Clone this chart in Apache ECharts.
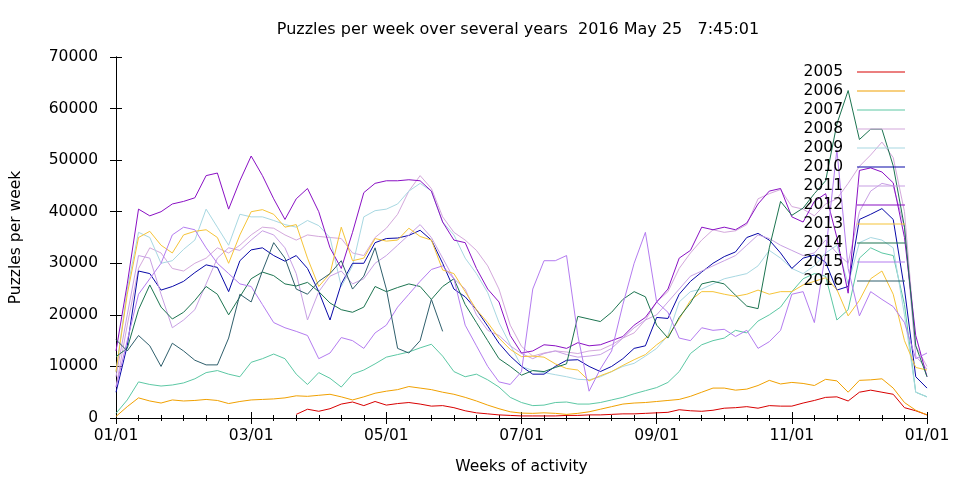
<!DOCTYPE html>
<html><head><meta charset="utf-8">
<script src="https://cdn.jsdelivr.net/npm/echarts@6/dist/echarts.min.js"></script>
<style>html,body{margin:0;padding:0;background:#fff}#c{width:960px;height:480px}</style>
</head><body><div id="c"></div>
<script>
// day of year (x), one sample every 5 days
const days = [0,5,10,15,20,25,30,35,40,45,50,55,60,65,70,75,80,85,90,95,100,105,110,115,120,125,130,135,140,145,150,155,160,165,170,175,180,185,190,195,200,205,210,215,220,225,230,235,240,245,250,255,260,265,270,275,280,285,290,295,300,305,310,315,320,325,330,335,340,345,350,355,360];
const tickLabels = ['01/01','03/01','05/01','07/01','09/01','11/01','01/01'];
const years = ['2005','2006','2007','2008','2009','2010','2011','2012','2013','2014','2015','2016'];

const y2005 = [null,null,null,null,null,null,null,null,null,null,null,null,null,null,null,null,
  700,1700,1300,1800,2700,3100,2400,3200,2500,2800,3000,2700,2300,2400,2000,1400,1000,800,600,500,
  400,400,400,400,500,500,600,600,700,800,800,900,1000,1100,1600,1400,1300,1500,1900,2000,
  2200,1900,2400,2300,2300,2900,3400,4000,4100,3300,5000,5400,5000,4600,2000,1400,600];
const y2006 = [300,2200,3900,3300,2900,3500,3300,3400,3600,3400,2800,3200,3500,3600,3700,3900,4300,4200,4400,4600,
  4100,3500,4100,4800,5200,5500,6100,5800,5500,5000,4600,4000,3300,2500,1800,1200,950,900,1000,900,
  700,900,1200,1700,2200,2700,2900,3000,3200,3400,3600,4200,5000,5800,5800,5400,5600,6300,7300,6600,
  6900,6700,6300,7500,7200,5000,7300,7400,7600,5800,3000,1500,600];
const y2007 = [900,3500,7000,6500,6200,6400,6800,7600,8800,9200,8500,8000,10800,11500,12400,11500,8500,6500,8800,7700,
  6000,8500,9300,10500,11800,12300,12800,13600,14300,12000,9000,8000,8500,7400,6000,4000,3000,2400,2500,3000,
  3100,2700,2700,3000,3500,4000,4700,5300,5900,6900,9000,12500,14200,15000,15500,17000,16500,18800,20000,21500,
  24500,27000,28000,27500,19000,21000,31000,33000,32000,31500,22000,5000,4100];
const y2008 = [6000,18000,29000,33000,32000,29000,28500,30000,31000,33000,32000,33500,35500,37000,36800,35500,34500,35500,35200,35000,
  34800,32000,31500,35000,36800,39500,44000,47000,44500,39000,36000,34500,32500,29500,25000,18000,13900,12000,12600,13000,
  12800,12500,13000,13200,14200,15500,16500,19000,22500,24500,29000,32000,34500,36500,36000,36300,37500,42500,43500,44300,
  41000,40500,39200,41500,42500,45500,48800,51000,53500,50500,40000,14000,10000];
const y2009 = [9000,25000,36000,35000,30000,30500,32700,34500,40500,37000,33500,39500,39000,39000,38300,37500,37000,38300,37300,35000,
  25500,29500,39000,40200,40500,41500,44000,45500,44000,38000,35500,31000,28000,24300,18500,14200,10000,9200,8800,8400,
  8000,7500,7400,8000,9000,10000,10600,12000,13500,16000,22500,24500,25000,26000,27000,27500,28000,29500,32500,31000,
  29000,28000,29500,32000,33500,26000,34000,35000,34500,33000,20000,5000,4100];
const y2010 = [5000,14000,28500,28000,24800,25500,26500,28200,29700,29200,24500,30500,32600,33000,31500,30400,31500,29000,24500,19000,
  26000,30000,30000,34000,34800,34900,35400,36400,34500,30000,25000,23500,21000,17800,14500,12000,10000,8500,8500,10000,
  11200,11300,10000,9000,10000,11500,13500,14000,19500,19300,24000,26500,28300,30000,31300,32200,35000,35800,34500,32000,
  29000,31000,31600,30200,24800,25500,38500,39500,40600,38500,25000,8000,5800];
const y2011 = [8000,20000,31500,31000,24000,17500,19000,21000,26000,31000,33000,32500,34500,36300,35500,33000,28000,19000,24500,27500,
  28500,26000,27000,30000,31500,33500,35500,37500,35000,31000,27000,25000,20000,17000,16000,14000,12500,11500,12500,13000,
  12300,11800,12000,12300,13500,15500,17500,19000,20000,22500,25000,27500,28500,29500,30500,31500,33500,35500,34800,33500,
  32500,31500,32000,34500,32000,30000,40000,44000,45500,45000,37000,12000,9500];
const y2012 = [13000,26000,40500,39200,40000,41500,42000,42700,47000,47500,40500,46000,50800,47000,42500,38500,42500,44500,40000,33000,
  29000,36000,43700,45500,46000,46000,46200,46000,44000,38000,34500,34000,29000,25000,22500,16000,12600,13000,14200,14000,
  13500,14600,14000,14200,15000,15800,18000,19500,22500,25000,31000,32500,37000,36500,37000,36500,37800,41500,44000,44500,
  39000,38000,42000,43500,35000,24200,48000,48500,47700,45600,35000,16000,8000];
const y2013 = [9000,24000,35000,36200,33500,32000,35500,36200,36500,35000,30000,35500,40000,40400,39500,37000,37500,31000,25500,28000,
  37000,30500,31000,34800,34300,34500,36800,35200,34500,28700,28000,24500,21000,18500,15500,13300,11900,12000,11800,10500,
  9600,9300,7200,8200,9000,10200,11300,12300,14200,15800,19200,22800,24500,24500,24000,23600,24000,24800,24000,24500,
  24500,25800,26500,27200,24900,19800,22800,27000,28500,24000,15000,9800,9300];
const y2014 = [11900,13500,21000,25800,21500,19200,20500,22800,25500,24000,20000,23500,27000,28300,27600,26000,25600,26300,24500,22300,
  21000,20500,21500,25500,24500,25300,26000,25500,23000,25500,27000,22000,18500,15000,11500,10000,8300,9200,9000,9800,
  10500,19700,19200,18700,20500,23000,24500,23500,18000,15500,19500,22300,26000,26500,26000,23800,21700,21200,33000,42000,
  39300,40700,43500,46000,57000,63500,54000,56000,56000,48900,37000,14000,8000];
const y2015 = [6000,15000,24000,27000,30000,35500,37000,36500,33000,30000,28000,26000,25500,22000,18500,17500,16800,16000,11500,12600,
  15600,15000,13500,16500,18000,21500,24000,26500,28800,29500,27000,18000,14000,10000,7000,6500,9000,25000,30500,30500,
  31500,16000,5200,9500,13000,22000,30000,36000,22500,20500,15500,15000,17500,17000,17200,15800,17000,13500,14800,17000,
  24000,24500,18500,32000,52000,29000,19800,24500,23000,21600,18500,11500,12600];
const y2016 = [15200,13000,16000,14000,10000,14500,13000,11200,10300,10300,15500,24000,22500,28500,34000,31000,25000,24000,26500,28000,
  30500,25000,27500,33000,25000,13500,12600,15000,23000,16800,
  null,null,null,null,null,null,null,null,null,null,null,null,null,null,null,null,null,null,null,null,null,null,
  null,null,null,null,null,null,null,null,null,null,null,null,null,null,null,null,null,null,null,null,null];

const yearValues = [y2005,y2006,y2007,y2008,y2009,y2010,y2011,y2012,y2013,y2014,y2015,y2016];
const colors = ['#d80000','#f0a000','#5cc8a4','#d4a8dc','#a8d8e2','#0808a8','#c8a0e4','#8a10c4','#f6c438','#1c7450','#b47cf0','#2f5f6c'];

const FONT = 'DejaVu Sans';
const chart = echarts.init(document.getElementById('c'), null, {renderer:'canvas'});

const series = years.map((y, k) => ({
  name: y,
  type: 'line',
  xAxisIndex: 0,
  yAxisIndex: 0,
  symbol: 'none',
  connectNulls: false,
  silent: true,
  animation: false,
  color: colors[k],
  itemStyle: {color: colors[k]},
  lineStyle: {color: colors[k], width: 1},
  data: days.map((d, i) => [d, yearValues[k][i]])
}));

const xBase = {
  type: 'value', min: 0, max: 360, interval: 60,
  axisLine: {show: true, lineStyle: {color: '#000', width: 1}},
  axisTick: {show: true, inside: true, length: 6, lineStyle: {color: '#000'}},
  minorTick: {show: true, splitNumber: 6, length: 3, lineStyle: {color: '#000'}},
  splitLine: {show: false}, minorSplitLine: {show: false}
};
const yBase = {
  type: 'value', min: 0, max: 70000, interval: 10000,
  axisLine: {show: true, lineStyle: {color: '#000', width: 1}},
  axisTick: {show: true, inside: true, length: 6, lineStyle: {color: '#000'}},
  splitLine: {show: false}
};

chart.setOption({
  animation: false,
  backgroundColor: '#fff',
  textStyle: {fontFamily: FONT},
  title: {
    text: 'Puzzles per week over several years  2016 May 25   7:45:01',
    left: 513, top: 17, textAlign: 'center',
    textStyle: {fontFamily: FONT, fontSize: 16, fontWeight: 'normal', color: '#000'}
  },
  grid: {left: 113, right: 33, top: 57, bottom: 62, containLabel: false},
  legend: {
    data: years, orient: 'vertical', right: 50, top: 59, align: 'right',
    icon: 'rect', itemWidth: 48, itemHeight: 1, itemGap: 3,
    selectedMode: false,
    textStyle: {fontFamily: FONT, fontSize: 15.5, color: '#000', padding: [0, 9, 0, 0]}
  },
  xAxis: [
    Object.assign({}, xBase, {
      position: 'bottom',
      name: 'Weeks of activity', nameLocation: 'middle', nameGap: 41,
      nameTextStyle: {fontFamily: FONT, fontSize: 15.5, color: '#000'},
      axisLabel: {show: true, color: '#000', fontFamily: FONT, fontSize: 15.5, margin: 10,
        formatter: v => tickLabels[Math.round(v / 60)]}
    }),
    Object.assign({}, xBase, {position: 'top', axisLabel: {show: false}})
  ],
  yAxis: [
    Object.assign({}, yBase, {
      position: 'left',
      name: 'Puzzles per week', nameLocation: 'middle', nameGap: 92, nameRotate: 90,
      nameTextStyle: {fontFamily: FONT, fontSize: 15.5, color: '#000'},
      axisLabel: {show: true, color: '#000', fontFamily: FONT, fontSize: 15.5, margin: 18,
        formatter: v => String(v)}
    }),
    Object.assign({}, yBase, {position: 'right', axisLabel: {show: false}})
  ],
  series: series
});
</script>
</body></html>
